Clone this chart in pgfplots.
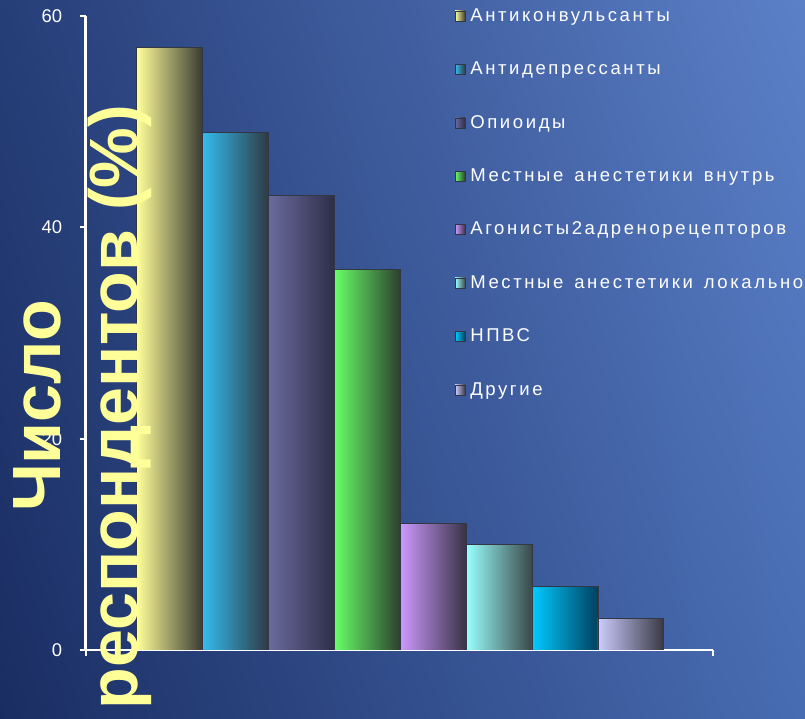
\documentclass[border=0pt]{standalone}
\usepackage{pgfplots}
\pgfplotsset{compat=1.18}
\usetikzlibrary{shadings}
\usepackage{fontspec}
\setmainfont{Liberation Sans}
\newfontfamily\legfont[LetterSpace=14,WordSpace=1.4]{Liberation Sans}
\definecolor{bgUL}{RGB}{38,62,120}
\definecolor{bgUR}{RGB}{92,128,200}
\definecolor{bgLL}{RGB}{26,45,98}
\definecolor{bgLR}{RGB}{72,108,178}
\definecolor{lab}{RGB}{255,255,153}
\definecolor{aL}{RGB}{255,255,153}\definecolor{aR}{RGB}{58,58,51}
\definecolor{bL}{RGB}{51,187,238}\definecolor{bR}{RGB}{46,58,68}
\definecolor{cL}{RGB}{106,106,158}\definecolor{cR}{RGB}{46,46,72}
\definecolor{dL}{RGB}{102,255,102}\definecolor{dR}{RGB}{44,63,46}
\definecolor{eL}{RGB}{204,153,255}\definecolor{eR}{RGB}{56,51,70}
\definecolor{fL}{RGB}{153,255,255}\definecolor{fR}{RGB}{58,72,72}
\definecolor{gL}{RGB}{0,204,255}\definecolor{gR}{RGB}{0,64,96}
\definecolor{hL}{RGB}{204,204,255}\definecolor{hR}{RGB}{56,56,68}
\definecolor{edge}{RGB}{50,55,70}
\begin{document}
\begin{tikzpicture}[x=1bp,y=1bp]
\useasboundingbox (0,0) rectangle (805,719);
\clip (0,0) rectangle (805,719);
\shade[upper left=bgUL, upper right=bgUR, lower left=bgLL, lower right=bgLR] (0,0) rectangle (805,719);
\begin{axis}[
  at={(85.7bp,69bp)}, anchor=south west,
  scale only axis, width=627bp, height=634bp,
  ybar, bar width=1, bar shift=0pt,
  legend image code/.code={\path[#1, draw=edge, line width=0.3bp] (0bp,-4bp) rectangle (10bp,6bp);},
  xmin=-1.274, xmax=8.244, ymin=0, ymax=60,
  ytick={0,20,40,60},
  xtick={-1.274,8.244}, xticklabels={},
  axis lines=left,
  axis line style={-, white, line width=2.5bp},
  tick align=outside, major tick length=6bp,
  tick style={white, line width=2bp},
  /pgf/number format/assume math mode=true,
  yticklabel style={font=\fontsize{18.5}{20}\selectfont, text=white, xshift=-14bp},
  legend cell align=left,
  legend style={draw=none, fill=none, inner sep=0pt, outer sep=0pt,
    at={(axis description cs:0.589,1.012)}, anchor=north west,
    row sep=36.4bp, text=white, font=\legfont\fontsize{18.6}{20}\selectfont,
    nodes={inner sep=0pt, text height=13bp, text depth=4bp},
    /tikz/every odd column/.style={column sep=5bp}},
]
\addplot[draw=edge, line width=0.5bp, left color=aL, middle color=aL!60!aR, right color=aR] coordinates {(0,57)};
\addplot[draw=edge, line width=0.5bp, left color=bL, middle color=bL!60!bR, right color=bR] coordinates {(1,49)};
\addplot[draw=edge, line width=0.5bp, left color=cL, middle color=cL!60!cR, right color=cR] coordinates {(2,43)};
\addplot[draw=edge, line width=0.5bp, left color=dL, middle color=dL!60!dR, right color=dR] coordinates {(3,36)};
\addplot[draw=edge, line width=0.5bp, left color=eL, middle color=eL!60!eR, right color=eR] coordinates {(4,12)};
\addplot[draw=edge, line width=0.5bp, left color=fL, middle color=fL!60!fR, right color=fR] coordinates {(5,10)};
\addplot[draw=edge, line width=0.5bp, left color=gL, middle color=gL!60!gR, right color=gR] coordinates {(6,6)};
\addplot[draw=edge, line width=0.5bp, left color=hL, middle color=hL!60!hR, right color=hR] coordinates {(7,3)};
\legend{Антиконвульсанты, Антидепрессанты, Опиоиды, Местные анестетики внутрь, Агонисты2адренорецепторов, Местные анестетики локально, НПВС, Другие}
\end{axis}
\node[rotate=90, anchor=base, text=lab, font=\bfseries\fontsize{68.5}{70}\selectfont, inner sep=0pt] at (60bp,313bp) {Число};
\node[rotate=90, anchor=base, text=lab, font=\bfseries\fontsize{68.5}{70}\selectfont, inner sep=0pt] at (137bp,312bp) {респондентов (\%)};
\end{tikzpicture}
\end{document}
